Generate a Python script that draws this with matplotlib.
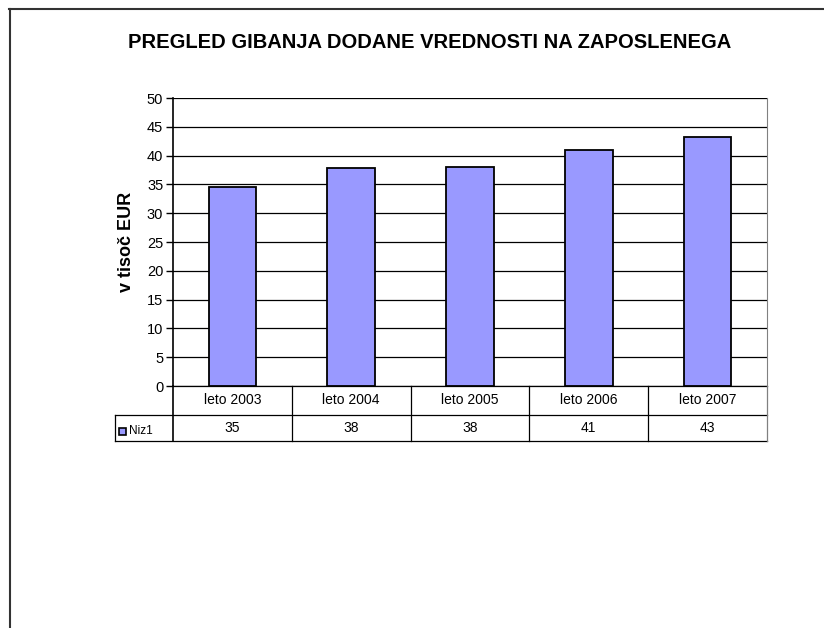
import matplotlib
matplotlib.use("Agg")
import matplotlib.pyplot as plt
from matplotlib.lines import Line2D
from matplotlib.patches import Rectangle

# data
categories = ['leto 2003', 'leto 2004', 'leto 2005', 'leto 2006', 'leto 2007']
values = [34.6, 37.8, 38.1, 40.9, 43.2]
series_name = 'Niz1'
title = 'PREGLED GIBANJA DODANE VREDNOSTI NA ZAPOSLENEGA'
ylabel = 'v tisoč EUR'

W, H = 824, 628
plt.rcParams['font.family'] = ['Liberation Sans', 'DejaVu Sans']

fig = plt.figure(figsize=(W / 100, H / 100), dpi=100)


def fx(x):
    return x / W


def fy(y):
    return 1 - y / H


# plot area in pixels
left, right, top, bottom = 173, 767, 98, 386
ax = fig.add_axes([fx(left), fy(bottom), fx(right - left), (bottom - top) / H])

x = list(range(len(categories)))
ax.bar(x, values, width=0.4, color='#9999FF', edgecolor='black', linewidth=1.3, zorder=3)
ax.set_xlim(-0.5, len(categories) - 0.5)
ax.set_ylim(0, 50)
ax.set_yticks(range(0, 51, 5))
ax.tick_params(axis='y', direction='out', length=5, width=1, labelsize=10.5, pad=2)
ax.set_xticks([])
ax.yaxis.grid(True, color='black', linewidth=0.9, zorder=0)
for s in ['top', 'bottom']:
    ax.spines[s].set_visible(False)
ax.spines['right'].set_color('#808080')
ax.spines['left'].set_linewidth(1.2)
ax.set_ylabel(ylabel, fontsize=13, fontweight='bold')
ax.yaxis.set_label_coords((135 - left) / (right - left), 0.5)

# data table below the axes
row1 = (bottom - 415) / (bottom - top)
row2 = (bottom - 441) / (bottom - top)
tbl_left = (115 - left) / (right - left)
tr = ax.get_xaxis_transform()
at = ax.transAxes
kw = dict(color='black', linewidth=0.9, clip_on=False)
ax.plot([0, 1], [0, 0], transform=at, **kw)
ax.plot([tbl_left, 1], [row1, row1], transform=at, **kw)
ax.plot([tbl_left, 1], [row2, row2], transform=at, **kw)
ax.plot([tbl_left, tbl_left], [row1, row2], transform=at, **kw)
ax.plot([0, 0], [0, row2], transform=at, color='black', linewidth=1.2, clip_on=False)
ax.plot([1, 1], [0, row2], transform=at, color='#808080', linewidth=0.9, clip_on=False)
for i in range(1, len(categories)):
    ax.plot([i - 0.5, i - 0.5], [0, row2], transform=tr, **kw)
for i, (c, v) in enumerate(zip(categories, values)):
    ax.text(i, row1 / 2, c, transform=tr, ha='center', va='center', fontsize=10)
    ax.text(i, (row1 + row2) / 2, f'{v:.0f}', transform=tr, ha='center', va='center', fontsize=10)

# legend key in the table
fig.add_artist(Rectangle((fx(119), fy(435)), 7 / W, 7 / H, facecolor='#9999FF',
                         edgecolor='black', linewidth=1.2))
fig.text(fx(129), fy(431), series_name, ha='left', va='center', fontsize=8.5)

fig.text(fx(430), fy(42), title, ha='center', va='center', fontsize=14.5, fontweight='bold')

# outer chart frame
fig.add_artist(Line2D([fx(9), 1], [fy(9), fy(9)], color='#333333', linewidth=1.5))
fig.add_artist(Line2D([fx(10), fx(10)], [fy(9), 0], color='#333333', linewidth=1.5))

fig.savefig('out.png', dpi=100)
